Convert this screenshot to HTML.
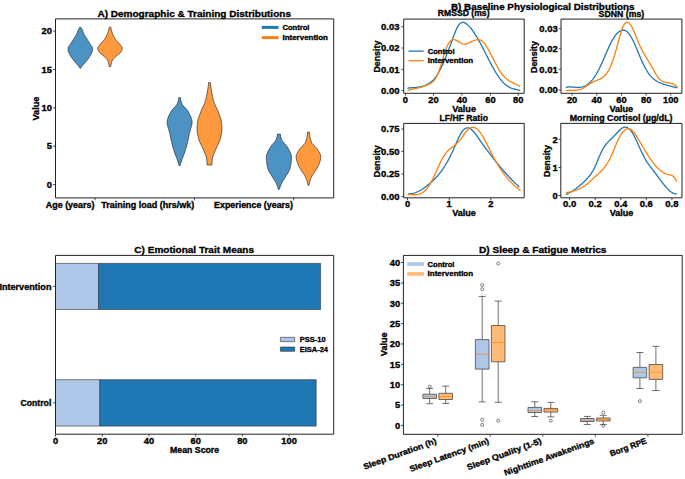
<!DOCTYPE html>
<html><head><meta charset="utf-8"><title>Figure</title>
<style>html,body{margin:0;padding:0;background:#fff;width:685px;height:479px;overflow:hidden;font-family:"Liberation Sans",sans-serif;}svg{display:block;} svg text{stroke:#000;stroke-width:0.32px;}</style>
</head><body>
<svg width="685" height="479" viewBox="0 0 685 479" font-family='&quot;Liberation Sans&quot;, sans-serif' stroke-linejoin="round">
<rect width="685" height="479" fill="#fff"/>
<path d="M80.9,27.4 L81.32,28.09 L81.73,28.78 L82.09,29.47 L82.4,30.16 L82.67,30.85 L82.92,31.54 L83.17,32.23 L83.43,32.92 L83.72,33.61 L84.05,34.3 L84.43,34.99 L84.84,35.68 L85.28,36.37 L85.73,37.06 L86.19,37.75 L86.64,38.44 L87.08,39.13 L87.51,39.82 L87.94,40.51 L88.37,41.2 L88.8,41.89 L89.23,42.58 L89.65,43.27 L90.07,43.96 L90.54,44.65 L91.06,45.34 L91.59,46.03 L92.05,46.72 L92.38,47.41 L92.5,48.09 L92.5,48.78 L92.5,49.47 L92.5,50.16 L92.47,50.85 L92.29,51.54 L92,52.23 L91.68,52.92 L91.37,53.61 L91.03,54.3 L90.66,54.99 L90.26,55.68 L89.83,56.37 L89.39,57.06 L88.93,57.75 L88.46,58.44 L87.96,59.13 L87.43,59.82 L86.88,60.51 L86.3,61.2 L85.72,61.89 L85.14,62.58 L84.55,63.27 L83.94,63.96 L83.29,64.65 L82.67,65.34 L82.1,66.03 L81.61,66.72 L81.18,67.41 L80.8,68.1 L79.8,68.1 L79.42,67.41 L78.99,66.72 L78.5,66.03 L77.93,65.34 L77.31,64.65 L76.66,63.96 L76.05,63.27 L75.46,62.58 L74.88,61.89 L74.3,61.2 L73.72,60.51 L73.17,59.82 L72.64,59.13 L72.14,58.44 L71.67,57.75 L71.21,57.06 L70.77,56.37 L70.34,55.68 L69.94,54.99 L69.57,54.3 L69.23,53.61 L68.92,52.92 L68.6,52.23 L68.31,51.54 L68.13,50.85 L68.1,50.16 L68.1,49.47 L68.1,48.78 L68.1,48.09 L68.22,47.41 L68.55,46.72 L69.01,46.03 L69.54,45.34 L70.06,44.65 L70.53,43.96 L70.95,43.27 L71.37,42.58 L71.8,41.89 L72.23,41.2 L72.66,40.51 L73.09,39.82 L73.52,39.13 L73.96,38.44 L74.41,37.75 L74.87,37.06 L75.32,36.37 L75.76,35.68 L76.17,34.99 L76.55,34.3 L76.88,33.61 L77.17,32.92 L77.43,32.23 L77.68,31.54 L77.93,30.85 L78.2,30.16 L78.51,29.47 L78.87,28.78 L79.28,28.09 L79.7,27.4 Z" fill="#4c92c3" stroke="#222" stroke-width="0.65" stroke-linejoin="round"/>
<path d="M110.8,27.2 L110.92,27.87 L111.06,28.54 L111.21,29.2 L111.38,29.87 L111.56,30.54 L111.76,31.21 L111.96,31.87 L112.18,32.54 L112.41,33.21 L112.67,33.88 L112.94,34.55 L113.23,35.21 L113.54,35.88 L113.87,36.55 L114.21,37.22 L114.58,37.88 L114.98,38.55 L115.42,39.22 L115.88,39.89 L116.37,40.56 L116.9,41.22 L117.55,41.89 L118.28,42.56 L119.01,43.23 L119.64,43.89 L120.15,44.56 L120.66,45.23 L121.15,45.9 L121.6,46.57 L121.96,47.23 L122.2,47.9 L122.3,48.57 L122.23,49.24 L122.02,49.91 L121.71,50.57 L121.33,51.24 L120.92,51.91 L120.45,52.58 L119.79,53.24 L119,53.91 L118.14,54.58 L117.28,55.25 L116.5,55.92 L115.79,56.58 L115.05,57.25 L114.32,57.92 L113.64,58.59 L113.05,59.25 L112.59,59.92 L112.27,60.59 L112,61.26 L111.77,61.93 L111.57,62.59 L111.39,63.26 L111.24,63.93 L111.1,64.6 L110.98,65.26 L110.88,65.93 L110.8,66.6 L109.2,66.6 L109.12,65.93 L109.02,65.26 L108.9,64.6 L108.76,63.93 L108.61,63.26 L108.43,62.59 L108.23,61.93 L108,61.26 L107.73,60.59 L107.41,59.92 L106.95,59.25 L106.36,58.59 L105.68,57.92 L104.95,57.25 L104.21,56.58 L103.5,55.92 L102.72,55.25 L101.86,54.58 L101,53.91 L100.21,53.24 L99.55,52.58 L99.08,51.91 L98.67,51.24 L98.29,50.57 L97.98,49.91 L97.77,49.24 L97.7,48.57 L97.8,47.9 L98.04,47.23 L98.4,46.57 L98.85,45.9 L99.34,45.23 L99.85,44.56 L100.36,43.89 L100.99,43.23 L101.72,42.56 L102.45,41.89 L103.1,41.22 L103.63,40.56 L104.12,39.89 L104.58,39.22 L105.02,38.55 L105.42,37.88 L105.79,37.22 L106.13,36.55 L106.46,35.88 L106.77,35.21 L107.06,34.55 L107.33,33.88 L107.59,33.21 L107.82,32.54 L108.04,31.87 L108.24,31.21 L108.44,30.54 L108.62,29.87 L108.79,29.2 L108.94,28.54 L109.08,27.87 L109.2,27.2 Z" fill="#ff993e" stroke="#222" stroke-width="0.65" stroke-linejoin="round"/>
<path d="M180.4,97.6 L180.49,98.75 L180.71,99.91 L181.01,101.06 L181.38,102.21 L181.79,103.36 L182.35,104.52 L183.19,105.67 L184.21,106.82 L185.31,107.97 L186.41,109.13 L187.4,110.28 L188.2,111.43 L188.79,112.58 L189.37,113.74 L189.94,114.89 L190.48,116.04 L190.97,117.19 L191.4,118.35 L191.74,119.5 L191.98,120.65 L192.09,121.8 L192.07,122.96 L191.94,124.11 L191.72,125.26 L191.43,126.41 L191.09,127.57 L190.73,128.72 L190.36,129.87 L190.01,131.02 L189.7,132.18 L189.44,133.33 L189.19,134.48 L188.96,135.63 L188.73,136.79 L188.5,137.94 L188.27,139.09 L188.03,140.24 L187.78,141.4 L187.51,142.55 L187.22,143.7 L186.93,144.85 L186.61,146.01 L186.29,147.16 L185.95,148.31 L185.6,149.46 L185.24,150.62 L184.87,151.77 L184.49,152.92 L184.1,154.07 L183.66,155.23 L183.19,156.38 L182.72,157.53 L182.27,158.68 L181.85,159.84 L181.48,160.99 L181.13,162.14 L180.8,163.29 L180.49,164.45 L180.2,165.6 L179,165.6 L178.71,164.45 L178.4,163.29 L178.07,162.14 L177.72,160.99 L177.35,159.84 L176.93,158.68 L176.48,157.53 L176.01,156.38 L175.54,155.23 L175.1,154.07 L174.71,152.92 L174.33,151.77 L173.96,150.62 L173.6,149.46 L173.25,148.31 L172.91,147.16 L172.59,146.01 L172.27,144.85 L171.98,143.7 L171.69,142.55 L171.42,141.4 L171.17,140.24 L170.93,139.09 L170.7,137.94 L170.47,136.79 L170.24,135.63 L170.01,134.48 L169.76,133.33 L169.5,132.18 L169.19,131.02 L168.84,129.87 L168.47,128.72 L168.11,127.57 L167.77,126.41 L167.48,125.26 L167.26,124.11 L167.13,122.96 L167.11,121.8 L167.22,120.65 L167.46,119.5 L167.8,118.35 L168.23,117.19 L168.72,116.04 L169.26,114.89 L169.83,113.74 L170.41,112.58 L171,111.43 L171.8,110.28 L172.79,109.13 L173.89,107.97 L174.99,106.82 L176.01,105.67 L176.85,104.52 L177.41,103.36 L177.82,102.21 L178.19,101.06 L178.49,99.91 L178.71,98.75 L178.8,97.6 Z" fill="#4c92c3" stroke="#222" stroke-width="0.65" stroke-linejoin="round"/>
<path d="M210.3,82.5 L210.46,83.9 L210.64,85.3 L210.84,86.69 L211.05,88.09 L211.27,89.49 L211.5,90.89 L211.74,92.29 L211.99,93.69 L212.25,95.08 L212.53,96.48 L212.83,97.88 L213.17,99.28 L213.53,100.68 L213.94,102.08 L214.46,103.47 L215.06,104.87 L215.71,106.27 L216.38,107.67 L217.05,109.07 L217.67,110.47 L218.22,111.86 L218.75,113.26 L219.29,114.66 L219.82,116.06 L220.33,117.46 L220.78,118.86 L221.15,120.25 L221.42,121.65 L221.6,123.05 L221.76,124.45 L221.89,125.85 L221.97,127.25 L222,128.64 L221.95,130.04 L221.81,131.44 L221.61,132.84 L221.36,134.24 L221.06,135.64 L220.74,137.03 L220.41,138.43 L220.04,139.83 L219.55,141.23 L218.94,142.63 L218.28,144.03 L217.58,145.42 L216.89,146.82 L216.24,148.22 L215.68,149.62 L215.1,151.02 L214.51,152.42 L213.92,153.81 L213.36,155.21 L212.88,156.61 L212.49,158.01 L212.24,159.41 L212.11,160.81 L212,162.2 L211.93,163.6 L211.9,165 L207.1,165 L207.07,163.6 L207,162.2 L206.89,160.81 L206.76,159.41 L206.51,158.01 L206.12,156.61 L205.64,155.21 L205.08,153.81 L204.49,152.42 L203.9,151.02 L203.32,149.62 L202.76,148.22 L202.11,146.82 L201.42,145.42 L200.72,144.03 L200.06,142.63 L199.45,141.23 L198.96,139.83 L198.59,138.43 L198.26,137.03 L197.94,135.64 L197.64,134.24 L197.39,132.84 L197.19,131.44 L197.05,130.04 L197,128.64 L197.03,127.25 L197.11,125.85 L197.24,124.45 L197.4,123.05 L197.58,121.65 L197.85,120.25 L198.22,118.86 L198.67,117.46 L199.18,116.06 L199.71,114.66 L200.25,113.26 L200.78,111.86 L201.33,110.47 L201.95,109.07 L202.62,107.67 L203.29,106.27 L203.94,104.87 L204.54,103.47 L205.06,102.08 L205.47,100.68 L205.83,99.28 L206.17,97.88 L206.47,96.48 L206.75,95.08 L207.01,93.69 L207.26,92.29 L207.5,90.89 L207.73,89.49 L207.95,88.09 L208.16,86.69 L208.36,85.3 L208.54,83.9 L208.7,82.5 Z" fill="#ff993e" stroke="#222" stroke-width="0.65" stroke-linejoin="round"/>
<path d="M280.4,134.1 L280.46,135.04 L280.61,135.97 L280.83,136.91 L281.1,137.84 L281.41,138.78 L281.74,139.71 L282.22,140.65 L282.87,141.58 L283.66,142.52 L284.52,143.46 L285.38,144.39 L286.2,145.33 L286.91,146.26 L287.46,147.2 L287.98,148.13 L288.51,149.07 L289.04,150.01 L289.54,150.94 L290.01,151.88 L290.44,152.81 L290.82,153.75 L291.12,154.68 L291.34,155.62 L291.47,156.55 L291.5,157.49 L291.48,158.43 L291.43,159.36 L291.36,160.3 L291.27,161.23 L291.16,162.17 L291.03,163.1 L290.88,164.04 L290.72,164.97 L290.54,165.91 L290.35,166.85 L290.15,167.78 L289.94,168.72 L289.68,169.65 L289.3,170.59 L288.82,171.52 L288.27,172.46 L287.68,173.39 L287.06,174.33 L286.46,175.27 L285.9,176.2 L285.34,177.14 L284.74,178.07 L284.13,179.01 L283.51,179.94 L282.92,180.88 L282.36,181.82 L281.85,182.75 L281.42,183.69 L281.03,184.62 L280.66,185.56 L280.32,186.49 L280.01,187.43 L279.74,188.36 L279.5,189.3 L278.3,189.3 L278.06,188.36 L277.79,187.43 L277.48,186.49 L277.14,185.56 L276.77,184.62 L276.38,183.69 L275.95,182.75 L275.44,181.82 L274.88,180.88 L274.29,179.94 L273.67,179.01 L273.06,178.07 L272.46,177.14 L271.9,176.2 L271.34,175.27 L270.74,174.33 L270.12,173.39 L269.53,172.46 L268.98,171.52 L268.5,170.59 L268.12,169.65 L267.86,168.72 L267.65,167.78 L267.45,166.85 L267.26,165.91 L267.08,164.97 L266.92,164.04 L266.77,163.1 L266.64,162.17 L266.53,161.23 L266.44,160.3 L266.37,159.36 L266.32,158.43 L266.3,157.49 L266.33,156.55 L266.46,155.62 L266.68,154.68 L266.98,153.75 L267.36,152.81 L267.79,151.88 L268.26,150.94 L268.76,150.01 L269.29,149.07 L269.82,148.13 L270.34,147.2 L270.89,146.26 L271.6,145.33 L272.42,144.39 L273.28,143.46 L274.14,142.52 L274.93,141.58 L275.58,140.65 L276.06,139.71 L276.39,138.78 L276.7,137.84 L276.97,136.91 L277.19,135.97 L277.34,135.04 L277.4,134.1 Z" fill="#4c92c3" stroke="#222" stroke-width="0.65" stroke-linejoin="round"/>
<path d="M309.3,132 L309.38,132.9 L309.49,133.8 L309.63,134.71 L309.79,135.61 L309.97,136.51 L310.17,137.41 L310.38,138.31 L310.6,139.21 L310.83,140.12 L311.09,141.02 L311.4,141.92 L311.77,142.82 L312.23,143.72 L313,144.62 L313.98,145.53 L314.96,146.43 L315.76,147.33 L316.52,148.23 L317.24,149.13 L317.9,150.03 L318.49,150.94 L319.01,151.84 L319.54,152.74 L320.04,153.64 L320.47,154.54 L320.78,155.44 L320.9,156.35 L320.86,157.25 L320.76,158.15 L320.59,159.05 L320.38,159.95 L320.14,160.85 L319.87,161.76 L319.6,162.66 L319.32,163.56 L318.97,164.46 L318.57,165.36 L318.11,166.26 L317.62,167.17 L317.11,168.07 L316.58,168.97 L316.05,169.87 L315.52,170.77 L314.92,171.67 L314.28,172.58 L313.62,173.48 L312.99,174.38 L312.41,175.28 L311.91,176.18 L311.48,177.08 L311.08,177.99 L310.71,178.89 L310.38,179.79 L310.09,180.69 L309.84,181.59 L309.61,182.49 L309.41,183.4 L309.24,184.3 L309.1,185.2 L307.9,185.2 L307.76,184.3 L307.59,183.4 L307.39,182.49 L307.16,181.59 L306.91,180.69 L306.62,179.79 L306.29,178.89 L305.92,177.99 L305.52,177.08 L305.09,176.18 L304.59,175.28 L304.01,174.38 L303.38,173.48 L302.72,172.58 L302.08,171.67 L301.48,170.77 L300.95,169.87 L300.42,168.97 L299.89,168.07 L299.38,167.17 L298.89,166.26 L298.43,165.36 L298.03,164.46 L297.68,163.56 L297.4,162.66 L297.13,161.76 L296.86,160.85 L296.62,159.95 L296.41,159.05 L296.24,158.15 L296.14,157.25 L296.1,156.35 L296.22,155.44 L296.53,154.54 L296.96,153.64 L297.46,152.74 L297.99,151.84 L298.51,150.94 L299.1,150.03 L299.76,149.13 L300.48,148.23 L301.24,147.33 L302.04,146.43 L303.02,145.53 L304,144.62 L304.77,143.72 L305.23,142.82 L305.6,141.92 L305.91,141.02 L306.17,140.12 L306.4,139.21 L306.62,138.31 L306.83,137.41 L307.03,136.51 L307.21,135.61 L307.37,134.71 L307.51,133.8 L307.62,132.9 L307.7,132 Z" fill="#ff993e" stroke="#222" stroke-width="0.65" stroke-linejoin="round"/>
<rect x="55.5" y="18.9" width="278.2" height="179" fill="none" stroke="#222" stroke-width="1" />
<line x1="53.1" y1="184.5" x2="55.5" y2="184.5" stroke="#222" stroke-width="0.8" />
<text x="52" y="187.82" font-size="8.2" text-anchor="end" font-weight="bold" fill="#000" textLength="5.18" lengthAdjust="spacingAndGlyphs">0</text>
<line x1="53.1" y1="146.15" x2="55.5" y2="146.15" stroke="#222" stroke-width="0.8" />
<text x="52" y="149.47" font-size="8.2" text-anchor="end" font-weight="bold" fill="#000" textLength="5.18" lengthAdjust="spacingAndGlyphs">5</text>
<line x1="53.1" y1="107.8" x2="55.5" y2="107.8" stroke="#222" stroke-width="0.8" />
<text x="52" y="111.12" font-size="8.2" text-anchor="end" font-weight="bold" fill="#000" textLength="10.37" lengthAdjust="spacingAndGlyphs">10</text>
<line x1="53.1" y1="69.45" x2="55.5" y2="69.45" stroke="#222" stroke-width="0.8" />
<text x="52" y="72.77" font-size="8.2" text-anchor="end" font-weight="bold" fill="#000" textLength="10.37" lengthAdjust="spacingAndGlyphs">15</text>
<line x1="53.1" y1="31.1" x2="55.5" y2="31.1" stroke="#222" stroke-width="0.8" />
<text x="52" y="34.42" font-size="8.2" text-anchor="end" font-weight="bold" fill="#000" textLength="10.37" lengthAdjust="spacingAndGlyphs">20</text>
<line x1="95" y1="197.9" x2="95" y2="200.3" stroke="#222" stroke-width="0.8" />
<line x1="194.5" y1="197.9" x2="194.5" y2="200.3" stroke="#222" stroke-width="0.8" />
<line x1="293.7" y1="197.9" x2="293.7" y2="200.3" stroke="#222" stroke-width="0.8" />
<text x="94.4" y="207.82" font-size="8.2" text-anchor="end" font-weight="bold" fill="#000" textLength="48.6" lengthAdjust="spacingAndGlyphs">Age (years)</text>
<text x="194.2" y="207.82" font-size="8.2" text-anchor="end" font-weight="bold" fill="#000" textLength="92.83" lengthAdjust="spacingAndGlyphs">Training load (hrs/wk)</text>
<text x="292.9" y="207.82" font-size="8.2" text-anchor="end" font-weight="bold" fill="#000" textLength="78.78" lengthAdjust="spacingAndGlyphs">Experience (years)</text>
<text x="35.5" y="111.92" font-size="8.2" text-anchor="middle" font-weight="bold" fill="#000" textLength="23.7" lengthAdjust="spacingAndGlyphs" transform="rotate(-90 35.5 108.6)">Value</text>
<text x="194.2" y="16.79" font-size="9.26" text-anchor="middle" font-weight="bold" fill="#000" textLength="193.49" lengthAdjust="spacingAndGlyphs">A) Demographic &amp; Training Distributions</text>
<line x1="261.8" y1="27.4" x2="278.5" y2="27.4" stroke="#1f77b4" stroke-width="3" />
<line x1="261.8" y1="37.6" x2="278.5" y2="37.6" stroke="#ff7f0e" stroke-width="3" />
<text x="282.5" y="29.86" font-size="7.15" text-anchor="start" font-weight="bold" fill="#000" textLength="26.87" lengthAdjust="spacingAndGlyphs">Control</text>
<text x="282.5" y="39.96" font-size="7.15" text-anchor="start" font-weight="bold" fill="#000" textLength="45.47" lengthAdjust="spacingAndGlyphs">Intervention</text>
<path d="M408,88.1 L408.94,88 L409.88,87.91 L410.81,87.83 L411.75,87.76 L412.69,87.69 L413.63,87.62 L414.56,87.55 L415.5,87.47 L416.44,87.37 L417.38,87.27 L418.32,87.14 L419.25,87 L420.19,86.83 L421.13,86.63 L422.07,86.4 L423.01,86.14 L423.94,85.84 L424.88,85.49 L425.82,85.1 L426.76,84.67 L427.69,84.18 L428.63,83.63 L429.57,83.03 L430.51,82.36 L431.45,81.63 L432.38,80.82 L433.32,79.92 L434.26,78.91 L435.2,77.79 L436.13,76.54 L437.07,75.16 L438.01,73.64 L438.95,72 L439.89,70.25 L440.82,68.39 L441.76,66.43 L442.7,64.37 L443.64,62.23 L444.57,60.02 L445.51,57.73 L446.45,55.38 L447.39,52.99 L448.33,50.54 L449.26,48.06 L450.2,45.55 L451.14,43.02 L452.08,40.48 L453.02,37.93 L453.95,35.4 L454.89,32.93 L455.83,30.6 L456.77,28.49 L457.7,26.66 L458.64,25.18 L459.58,24.04 L460.52,23.23 L461.46,22.72 L462.39,22.47 L463.33,22.47 L464.27,22.69 L465.21,23.1 L466.14,23.67 L467.08,24.37 L468.02,25.19 L468.96,26.11 L469.9,27.13 L470.83,28.23 L471.77,29.41 L472.71,30.68 L473.65,32.02 L474.58,33.43 L475.52,34.9 L476.46,36.43 L477.4,38.02 L478.34,39.65 L479.27,41.33 L480.21,43.05 L481.15,44.81 L482.09,46.59 L483.03,48.4 L483.96,50.23 L484.9,52.07 L485.84,53.92 L486.78,55.77 L487.71,57.62 L488.65,59.46 L489.59,61.28 L490.53,63.08 L491.47,64.85 L492.4,66.58 L493.34,68.27 L494.28,69.92 L495.22,71.5 L496.15,73.04 L497.09,74.5 L498.03,75.91 L498.97,77.25 L499.91,78.53 L500.84,79.73 L501.78,80.87 L502.72,81.93 L503.66,82.91 L504.59,83.82 L505.53,84.65 L506.47,85.4 L507.41,86.07 L508.35,86.66 L509.28,87.18 L510.22,87.64 L511.16,88.05 L512.1,88.41 L513.04,88.72 L513.97,89 L514.91,89.25 L515.85,89.48 L516.79,89.69 L517.72,89.9 L518.66,90.1 L519.6,90.3" fill="none" stroke="#1f77b4" stroke-width="1.3" stroke-linejoin="round" stroke-linecap="round"/>
<path d="M408,90.3 L408.94,90.05 L409.88,89.82 L410.81,89.6 L411.75,89.39 L412.69,89.18 L413.63,88.97 L414.56,88.76 L415.5,88.56 L416.44,88.34 L417.38,88.12 L418.32,87.9 L419.25,87.66 L420.19,87.42 L421.13,87.15 L422.07,86.88 L423.01,86.58 L423.94,86.26 L424.88,85.93 L425.82,85.56 L426.76,85.18 L427.69,84.76 L428.63,84.31 L429.57,83.83 L430.51,83.32 L431.45,82.76 L432.38,82.1 L433.32,81.3 L434.26,80.3 L435.2,79.06 L436.13,77.51 L437.07,75.63 L438.01,73.44 L438.95,70.98 L439.89,68.3 L440.82,65.42 L441.76,62.39 L442.7,59.26 L443.64,56.12 L444.57,53.07 L445.51,50.22 L446.45,47.67 L447.39,45.51 L448.33,43.74 L449.26,42.32 L450.2,41.24 L451.14,40.46 L452.08,39.96 L453.02,39.71 L453.95,39.68 L454.89,39.83 L455.83,40.14 L456.77,40.56 L457.7,41.08 L458.64,41.64 L459.58,42.23 L460.52,42.8 L461.46,43.31 L462.39,43.75 L463.33,44.07 L464.27,44.23 L465.21,44.22 L466.14,44.04 L467.08,43.73 L468.02,43.33 L468.96,42.87 L469.9,42.39 L470.83,41.93 L471.77,41.49 L472.71,41.1 L473.65,40.73 L474.58,40.41 L475.52,40.12 L476.46,39.88 L477.4,39.71 L478.34,39.64 L479.27,39.7 L480.21,39.94 L481.15,40.38 L482.09,41.04 L483.03,41.9 L483.96,42.94 L484.9,44.14 L485.84,45.48 L486.78,46.95 L487.71,48.52 L488.65,50.17 L489.59,51.9 L490.53,53.67 L491.47,55.48 L492.4,57.31 L493.34,59.14 L494.28,60.97 L495.22,62.78 L496.15,64.56 L497.09,66.29 L498.03,67.95 L498.97,69.54 L499.91,71.04 L500.84,72.43 L501.78,73.72 L502.72,74.89 L503.66,75.97 L504.59,76.96 L505.53,77.86 L506.47,78.68 L507.41,79.43 L508.35,80.12 L509.28,80.75 L510.22,81.34 L511.16,81.88 L512.1,82.39 L513.04,82.88 L513.97,83.35 L514.91,83.8 L515.85,84.26 L516.79,84.72 L517.72,85.19 L518.66,85.68 L519.6,86.2" fill="none" stroke="#ff7f0e" stroke-width="1.3" stroke-linejoin="round" stroke-linecap="round"/>
<rect x="403.7" y="19.1" width="120.5" height="74.2" fill="none" stroke="#222" stroke-width="1" />
<line x1="401.3" y1="90.7" x2="403.7" y2="90.7" stroke="#222" stroke-width="0.8" />
<text x="399.5" y="94.02" font-size="8.2" text-anchor="end" font-weight="bold" fill="#000" textLength="18.38" lengthAdjust="spacingAndGlyphs">0.00</text>
<line x1="401.3" y1="69.37" x2="403.7" y2="69.37" stroke="#222" stroke-width="0.8" />
<text x="399.5" y="72.69" font-size="8.2" text-anchor="end" font-weight="bold" fill="#000" textLength="18.38" lengthAdjust="spacingAndGlyphs">0.01</text>
<line x1="401.3" y1="48.03" x2="403.7" y2="48.03" stroke="#222" stroke-width="0.8" />
<text x="399.5" y="51.35" font-size="8.2" text-anchor="end" font-weight="bold" fill="#000" textLength="18.38" lengthAdjust="spacingAndGlyphs">0.02</text>
<line x1="401.3" y1="26.7" x2="403.7" y2="26.7" stroke="#222" stroke-width="0.8" />
<text x="399.5" y="30.02" font-size="8.2" text-anchor="end" font-weight="bold" fill="#000" textLength="18.38" lengthAdjust="spacingAndGlyphs">0.03</text>
<line x1="405.4" y1="93.3" x2="405.4" y2="95.7" stroke="#222" stroke-width="0.8" />
<text x="405.4" y="102.72" font-size="8.2" text-anchor="middle" font-weight="bold" fill="#000" textLength="5.18" lengthAdjust="spacingAndGlyphs">0</text>
<line x1="433.5" y1="93.3" x2="433.5" y2="95.7" stroke="#222" stroke-width="0.8" />
<text x="433.5" y="102.72" font-size="8.2" text-anchor="middle" font-weight="bold" fill="#000" textLength="10.37" lengthAdjust="spacingAndGlyphs">20</text>
<line x1="461.9" y1="93.3" x2="461.9" y2="95.7" stroke="#222" stroke-width="0.8" />
<text x="461.9" y="102.72" font-size="8.2" text-anchor="middle" font-weight="bold" fill="#000" textLength="10.37" lengthAdjust="spacingAndGlyphs">40</text>
<line x1="490.4" y1="93.3" x2="490.4" y2="95.7" stroke="#222" stroke-width="0.8" />
<text x="490.4" y="102.72" font-size="8.2" text-anchor="middle" font-weight="bold" fill="#000" textLength="10.37" lengthAdjust="spacingAndGlyphs">60</text>
<line x1="518.2" y1="93.3" x2="518.2" y2="95.7" stroke="#222" stroke-width="0.8" />
<text x="518.2" y="102.72" font-size="8.2" text-anchor="middle" font-weight="bold" fill="#000" textLength="10.37" lengthAdjust="spacingAndGlyphs">80</text>
<text x="464.1" y="112.22" font-size="8.2" text-anchor="middle" font-weight="bold" fill="#000" textLength="23.7" lengthAdjust="spacingAndGlyphs">Value</text>
<text x="376.5" y="59.92" font-size="8.2" text-anchor="middle" font-weight="bold" fill="#000" textLength="31.95" lengthAdjust="spacingAndGlyphs" transform="rotate(-90 376.5 56.6)">Density</text>
<text x="463.7" y="16.42" font-size="8.2" text-anchor="middle" font-weight="bold" fill="#000" textLength="51.67" lengthAdjust="spacingAndGlyphs">RMSSD (ms)</text>
<line x1="408.5" y1="51.1" x2="423.7" y2="51.1" stroke="#1f77b4" stroke-width="1.3" />
<line x1="408.5" y1="60.7" x2="423.7" y2="60.7" stroke="#ff7f0e" stroke-width="1.3" />
<text x="427.7" y="53.56" font-size="7.15" text-anchor="start" font-weight="bold" fill="#000" textLength="26.87" lengthAdjust="spacingAndGlyphs">Control</text>
<text x="427.7" y="63.36" font-size="7.15" text-anchor="start" font-weight="bold" fill="#000" textLength="45.47" lengthAdjust="spacingAndGlyphs">Intervention</text>
<path d="M566.3,87.3 L567.23,87.13 L568.16,87.02 L569.09,86.96 L570.02,86.95 L570.95,86.96 L571.88,87.01 L572.81,87.07 L573.74,87.14 L574.67,87.22 L575.6,87.29 L576.53,87.34 L577.46,87.38 L578.39,87.39 L579.32,87.36 L580.25,87.29 L581.18,87.17 L582.11,86.98 L583.04,86.73 L583.97,86.41 L584.91,86.01 L585.84,85.53 L586.77,84.98 L587.7,84.34 L588.63,83.61 L589.56,82.8 L590.49,81.9 L591.42,80.91 L592.35,79.82 L593.28,78.64 L594.21,77.36 L595.14,75.98 L596.07,74.5 L597,72.91 L597.93,71.22 L598.86,69.44 L599.79,67.58 L600.72,65.63 L601.65,63.63 L602.58,61.56 L603.51,59.44 L604.44,57.29 L605.37,55.12 L606.3,52.94 L607.23,50.79 L608.16,48.68 L609.09,46.62 L610.02,44.65 L610.95,42.78 L611.88,41.02 L612.81,39.37 L613.74,37.84 L614.67,36.44 L615.6,35.16 L616.53,34.02 L617.46,33.02 L618.39,32.16 L619.32,31.45 L620.25,30.88 L621.18,30.48 L622.12,30.23 L623.05,30.15 L623.98,30.24 L624.91,30.5 L625.84,30.94 L626.77,31.56 L627.7,32.37 L628.63,33.38 L629.56,34.58 L630.49,35.97 L631.42,37.52 L632.35,39.23 L633.28,41.08 L634.21,43.05 L635.14,45.13 L636.07,47.29 L637,49.51 L637.93,51.76 L638.86,54.02 L639.79,56.26 L640.72,58.45 L641.65,60.57 L642.58,62.62 L643.51,64.59 L644.44,66.46 L645.37,68.24 L646.3,69.9 L647.23,71.43 L648.16,72.84 L649.09,74.13 L650.02,75.31 L650.95,76.38 L651.88,77.35 L652.81,78.23 L653.74,79.02 L654.67,79.74 L655.6,80.39 L656.53,80.97 L657.46,81.51 L658.39,81.99 L659.33,82.43 L660.26,82.84 L661.19,83.23 L662.12,83.59 L663.05,83.94 L663.98,84.27 L664.91,84.58 L665.84,84.88 L666.77,85.16 L667.7,85.43 L668.63,85.69 L669.56,85.94 L670.49,86.18 L671.42,86.41 L672.35,86.64 L673.28,86.86 L674.21,87.07 L675.14,87.29 L676.07,87.5 L677,87.71" fill="none" stroke="#1f77b4" stroke-width="1.3" stroke-linejoin="round" stroke-linecap="round"/>
<path d="M566.3,90.7 L567.23,90.59 L568.16,90.52 L569.09,90.47 L570.02,90.44 L570.95,90.41 L571.88,90.4 L572.81,90.38 L573.74,90.35 L574.67,90.31 L575.6,90.25 L576.53,90.16 L577.46,90.03 L578.39,89.87 L579.32,89.66 L580.25,89.4 L581.18,89.08 L582.11,88.69 L583.04,88.23 L583.97,87.7 L584.91,87.11 L585.84,86.49 L586.77,85.84 L587.7,85.18 L588.63,84.54 L589.56,83.92 L590.49,83.35 L591.42,82.81 L592.35,82.32 L593.28,81.86 L594.21,81.43 L595.14,81.02 L596.07,80.63 L597,80.26 L597.93,79.89 L598.86,79.51 L599.79,79.11 L600.72,78.65 L601.65,78.13 L602.58,77.53 L603.51,76.82 L604.44,76 L605.37,75.04 L606.3,73.93 L607.23,72.65 L608.16,71.18 L609.09,69.51 L610.02,67.61 L610.95,65.47 L611.88,63.1 L612.81,60.5 L613.74,57.71 L614.67,54.75 L615.6,51.62 L616.53,48.35 L617.46,44.97 L618.39,41.51 L619.32,38.07 L620.25,34.75 L621.18,31.65 L622.12,28.9 L623.05,26.57 L623.98,24.76 L624.91,23.46 L625.84,22.64 L626.77,22.26 L627.7,22.31 L628.63,22.75 L629.56,23.55 L630.49,24.7 L631.42,26.15 L632.35,27.88 L633.28,29.86 L634.21,32.02 L635.14,34.3 L636.07,36.65 L637,39 L637.93,41.28 L638.86,43.45 L639.79,45.51 L640.72,47.47 L641.65,49.34 L642.58,51.12 L643.51,52.84 L644.44,54.49 L645.37,56.1 L646.3,57.67 L647.23,59.21 L648.16,60.74 L649.09,62.27 L650.02,63.82 L650.95,65.39 L651.88,67.01 L652.81,68.67 L653.74,70.34 L654.67,72 L655.6,73.6 L656.53,75.12 L657.46,76.51 L658.39,77.76 L659.33,78.83 L660.26,79.72 L661.19,80.45 L662.12,81.04 L663.05,81.51 L663.98,81.88 L664.91,82.17 L665.84,82.39 L666.77,82.57 L667.7,82.72 L668.63,82.86 L669.56,83.01 L670.49,83.19 L671.42,83.41 L672.35,83.7 L673.28,84.08 L674.21,84.56 L675.14,85.15 L676.07,85.89 L677,86.79" fill="none" stroke="#ff7f0e" stroke-width="1.3" stroke-linejoin="round" stroke-linecap="round"/>
<rect x="561" y="19.1" width="120.9" height="74.2" fill="none" stroke="#222" stroke-width="1" />
<line x1="558.6" y1="90" x2="561" y2="90" stroke="#222" stroke-width="0.8" />
<text x="557.7" y="93.32" font-size="8.2" text-anchor="end" font-weight="bold" fill="#000" textLength="18.38" lengthAdjust="spacingAndGlyphs">0.00</text>
<line x1="558.6" y1="69.3" x2="561" y2="69.3" stroke="#222" stroke-width="0.8" />
<text x="557.7" y="72.62" font-size="8.2" text-anchor="end" font-weight="bold" fill="#000" textLength="18.38" lengthAdjust="spacingAndGlyphs">0.01</text>
<line x1="558.6" y1="48.9" x2="561" y2="48.9" stroke="#222" stroke-width="0.8" />
<text x="557.7" y="52.22" font-size="8.2" text-anchor="end" font-weight="bold" fill="#000" textLength="18.38" lengthAdjust="spacingAndGlyphs">0.02</text>
<line x1="558.6" y1="28.7" x2="561" y2="28.7" stroke="#222" stroke-width="0.8" />
<text x="557.7" y="32.02" font-size="8.2" text-anchor="end" font-weight="bold" fill="#000" textLength="18.38" lengthAdjust="spacingAndGlyphs">0.03</text>
<line x1="572.1" y1="93.3" x2="572.1" y2="95.7" stroke="#222" stroke-width="0.8" />
<text x="572.1" y="103.22" font-size="8.2" text-anchor="middle" font-weight="bold" fill="#000" textLength="10.37" lengthAdjust="spacingAndGlyphs">20</text>
<line x1="596.8" y1="93.3" x2="596.8" y2="95.7" stroke="#222" stroke-width="0.8" />
<text x="596.8" y="103.22" font-size="8.2" text-anchor="middle" font-weight="bold" fill="#000" textLength="10.37" lengthAdjust="spacingAndGlyphs">40</text>
<line x1="621.5" y1="93.3" x2="621.5" y2="95.7" stroke="#222" stroke-width="0.8" />
<text x="621.5" y="103.22" font-size="8.2" text-anchor="middle" font-weight="bold" fill="#000" textLength="10.37" lengthAdjust="spacingAndGlyphs">60</text>
<line x1="646.2" y1="93.3" x2="646.2" y2="95.7" stroke="#222" stroke-width="0.8" />
<text x="646.2" y="103.22" font-size="8.2" text-anchor="middle" font-weight="bold" fill="#000" textLength="10.37" lengthAdjust="spacingAndGlyphs">80</text>
<line x1="670.8" y1="93.3" x2="670.8" y2="95.7" stroke="#222" stroke-width="0.8" />
<text x="670.8" y="103.22" font-size="8.2" text-anchor="middle" font-weight="bold" fill="#000" textLength="15.55" lengthAdjust="spacingAndGlyphs">100</text>
<text x="621.3" y="112.12" font-size="8.2" text-anchor="middle" font-weight="bold" fill="#000" textLength="23.7" lengthAdjust="spacingAndGlyphs">Value</text>
<text x="533.9" y="60.32" font-size="8.2" text-anchor="middle" font-weight="bold" fill="#000" textLength="31.95" lengthAdjust="spacingAndGlyphs" transform="rotate(-90 533.9 57)">Density</text>
<text x="621.4" y="16.52" font-size="8.2" text-anchor="middle" font-weight="bold" fill="#000" textLength="45.62" lengthAdjust="spacingAndGlyphs">SDNN (ms)</text>
<path d="M408.4,193.89 L409.33,193.88 L410.26,193.82 L411.19,193.71 L412.12,193.55 L413.05,193.35 L413.98,193.11 L414.91,192.82 L415.84,192.49 L416.76,192.12 L417.69,191.71 L418.62,191.27 L419.55,190.79 L420.48,190.27 L421.41,189.73 L422.34,189.15 L423.27,188.55 L424.2,187.91 L425.13,187.25 L426.06,186.56 L426.99,185.85 L427.92,185.12 L428.85,184.37 L429.78,183.59 L430.71,182.79 L431.64,181.96 L432.56,181.1 L433.49,180.21 L434.42,179.28 L435.35,178.32 L436.28,177.32 L437.21,176.28 L438.14,175.2 L439.07,174.07 L440,172.9 L440.93,171.68 L441.86,170.41 L442.79,169.08 L443.72,167.7 L444.65,166.27 L445.58,164.78 L446.51,163.22 L447.44,161.61 L448.36,159.93 L449.29,158.18 L450.22,156.37 L451.15,154.5 L452.08,152.56 L453.01,150.56 L453.94,148.49 L454.87,146.35 L455.8,144.19 L456.73,142.03 L457.66,139.91 L458.59,137.87 L459.52,135.94 L460.45,134.18 L461.38,132.61 L462.31,131.26 L463.24,130.15 L464.16,129.25 L465.09,128.58 L466.02,128.12 L466.95,127.87 L467.88,127.84 L468.81,128.01 L469.74,128.38 L470.67,128.92 L471.6,129.62 L472.53,130.46 L473.46,131.43 L474.39,132.5 L475.32,133.66 L476.25,134.9 L477.18,136.2 L478.11,137.54 L479.04,138.9 L479.96,140.27 L480.89,141.63 L481.82,142.97 L482.75,144.29 L483.68,145.6 L484.61,146.88 L485.54,148.16 L486.47,149.42 L487.4,150.67 L488.33,151.9 L489.26,153.13 L490.19,154.34 L491.12,155.55 L492.05,156.75 L492.98,157.94 L493.91,159.12 L494.84,160.29 L495.76,161.45 L496.69,162.6 L497.62,163.74 L498.55,164.87 L499.48,165.99 L500.41,167.1 L501.34,168.2 L502.27,169.29 L503.2,170.36 L504.13,171.43 L505.06,172.48 L505.99,173.52 L506.92,174.55 L507.85,175.56 L508.78,176.57 L509.71,177.56 L510.64,178.53 L511.56,179.5 L512.49,180.45 L513.42,181.38 L514.35,182.3 L515.28,183.21 L516.21,184.1 L517.14,184.98 L518.07,185.85 L519,186.69" fill="none" stroke="#1f77b4" stroke-width="1.3" stroke-linejoin="round" stroke-linecap="round"/>
<path d="M408.4,194.6 L409.34,194.61 L410.28,194.63 L411.22,194.67 L412.15,194.71 L413.09,194.73 L414.03,194.74 L414.97,194.73 L415.91,194.68 L416.85,194.59 L417.79,194.44 L418.73,194.23 L419.66,193.96 L420.6,193.6 L421.54,193.16 L422.48,192.62 L423.42,191.97 L424.36,191.21 L425.3,190.33 L426.23,189.32 L427.17,188.18 L428.11,186.92 L429.05,185.53 L429.99,184.03 L430.93,182.41 L431.87,180.68 L432.81,178.84 L433.74,176.9 L434.68,174.89 L435.62,172.83 L436.56,170.75 L437.5,168.66 L438.44,166.6 L439.38,164.58 L440.31,162.64 L441.25,160.78 L442.19,159.01 L443.13,157.34 L444.07,155.79 L445.01,154.35 L445.95,153.04 L446.88,151.87 L447.82,150.84 L448.76,149.94 L449.7,149.12 L450.64,148.38 L451.58,147.69 L452.52,147.01 L453.46,146.33 L454.39,145.61 L455.33,144.85 L456.27,144.03 L457.21,143.15 L458.15,142.2 L459.09,141.18 L460.03,140.07 L460.96,138.87 L461.9,137.59 L462.84,136.23 L463.78,134.85 L464.72,133.49 L465.66,132.19 L466.6,131 L467.54,129.95 L468.47,129.08 L469.41,128.38 L470.35,127.86 L471.29,127.52 L472.23,127.34 L473.17,127.34 L474.11,127.5 L475.04,127.82 L475.98,128.31 L476.92,128.96 L477.86,129.77 L478.8,130.73 L479.74,131.84 L480.68,133.1 L481.62,134.5 L482.55,136.01 L483.49,137.62 L484.43,139.32 L485.37,141.09 L486.31,142.91 L487.25,144.79 L488.19,146.69 L489.12,148.6 L490.06,150.51 L491,152.41 L491.94,154.28 L492.88,156.1 L493.82,157.87 L494.76,159.59 L495.69,161.26 L496.63,162.87 L497.57,164.44 L498.51,165.96 L499.45,167.44 L500.39,168.87 L501.33,170.25 L502.27,171.59 L503.2,172.89 L504.14,174.15 L505.08,175.37 L506.02,176.55 L506.96,177.69 L507.9,178.8 L508.84,179.87 L509.77,180.9 L510.71,181.9 L511.65,182.87 L512.59,183.81 L513.53,184.72 L514.47,185.6 L515.41,186.46 L516.35,187.28 L517.28,188.09 L518.22,188.86 L519.16,189.62 L520.1,190.35" fill="none" stroke="#ff7f0e" stroke-width="1.3" stroke-linejoin="round" stroke-linecap="round"/>
<rect x="403.7" y="123.4" width="120.5" height="74.4" fill="none" stroke="#222" stroke-width="1" />
<line x1="401.3" y1="196.3" x2="403.7" y2="196.3" stroke="#222" stroke-width="0.8" />
<text x="399.5" y="199.62" font-size="8.2" text-anchor="end" font-weight="bold" fill="#000" textLength="18.38" lengthAdjust="spacingAndGlyphs">0.00</text>
<line x1="401.3" y1="174" x2="403.7" y2="174" stroke="#222" stroke-width="0.8" />
<text x="399.5" y="177.32" font-size="8.2" text-anchor="end" font-weight="bold" fill="#000" textLength="18.38" lengthAdjust="spacingAndGlyphs">0.25</text>
<line x1="401.3" y1="151.4" x2="403.7" y2="151.4" stroke="#222" stroke-width="0.8" />
<text x="399.5" y="154.72" font-size="8.2" text-anchor="end" font-weight="bold" fill="#000" textLength="18.38" lengthAdjust="spacingAndGlyphs">0.50</text>
<line x1="401.3" y1="129" x2="403.7" y2="129" stroke="#222" stroke-width="0.8" />
<text x="399.5" y="132.32" font-size="8.2" text-anchor="end" font-weight="bold" fill="#000" textLength="18.38" lengthAdjust="spacingAndGlyphs">0.75</text>
<line x1="407.5" y1="197.8" x2="407.5" y2="200.2" stroke="#222" stroke-width="0.8" />
<text x="407.5" y="207.32" font-size="8.2" text-anchor="middle" font-weight="bold" fill="#000" textLength="5.18" lengthAdjust="spacingAndGlyphs">0</text>
<line x1="449.2" y1="197.8" x2="449.2" y2="200.2" stroke="#222" stroke-width="0.8" />
<text x="449.2" y="207.32" font-size="8.2" text-anchor="middle" font-weight="bold" fill="#000" textLength="5.18" lengthAdjust="spacingAndGlyphs">1</text>
<line x1="490.8" y1="197.8" x2="490.8" y2="200.2" stroke="#222" stroke-width="0.8" />
<text x="490.8" y="207.32" font-size="8.2" text-anchor="middle" font-weight="bold" fill="#000" textLength="5.18" lengthAdjust="spacingAndGlyphs">2</text>
<text x="464" y="216.32" font-size="8.2" text-anchor="middle" font-weight="bold" fill="#000" textLength="23.7" lengthAdjust="spacingAndGlyphs">Value</text>
<text x="376.5" y="164.52" font-size="8.2" text-anchor="middle" font-weight="bold" fill="#000" textLength="31.95" lengthAdjust="spacingAndGlyphs" transform="rotate(-90 376.5 161.2)">Density</text>
<text x="463.7" y="120.92" font-size="8.2" text-anchor="middle" font-weight="bold" fill="#000" textLength="48.47" lengthAdjust="spacingAndGlyphs">LF/HF Ratio</text>
<path d="M566.3,194.4 L567.23,193.97 L568.15,193.52 L569.08,193.04 L570,192.53 L570.93,192 L571.85,191.44 L572.78,190.86 L573.7,190.25 L574.63,189.62 L575.55,188.97 L576.48,188.28 L577.4,187.58 L578.33,186.85 L579.25,186.09 L580.18,185.32 L581.1,184.51 L582.03,183.69 L582.95,182.84 L583.88,181.97 L584.8,181.07 L585.73,180.15 L586.65,179.19 L587.58,178.19 L588.51,177.13 L589.43,175.99 L590.36,174.76 L591.28,173.42 L592.21,171.97 L593.13,170.38 L594.06,168.64 L594.98,166.73 L595.91,164.67 L596.83,162.5 L597.76,160.27 L598.68,158.03 L599.61,155.82 L600.53,153.69 L601.46,151.69 L602.38,149.87 L603.31,148.24 L604.23,146.78 L605.16,145.46 L606.08,144.26 L607.01,143.16 L607.93,142.14 L608.86,141.17 L609.78,140.23 L610.71,139.31 L611.64,138.4 L612.56,137.49 L613.49,136.58 L614.41,135.66 L615.34,134.71 L616.26,133.74 L617.19,132.75 L618.11,131.74 L619.04,130.77 L619.96,129.86 L620.89,129.03 L621.81,128.33 L622.74,127.79 L623.66,127.41 L624.59,127.21 L625.51,127.19 L626.44,127.35 L627.36,127.69 L628.29,128.22 L629.21,128.93 L630.14,129.83 L631.06,130.92 L631.99,132.19 L632.92,133.64 L633.84,135.28 L634.77,137.08 L635.69,139 L636.62,141.02 L637.54,143.09 L638.47,145.2 L639.39,147.29 L640.32,149.35 L641.24,151.33 L642.17,153.25 L643.09,155.08 L644.02,156.84 L644.94,158.52 L645.87,160.12 L646.79,161.64 L647.72,163.07 L648.64,164.42 L649.57,165.7 L650.49,166.93 L651.42,168.12 L652.34,169.29 L653.27,170.45 L654.19,171.62 L655.12,172.81 L656.05,174.03 L656.97,175.27 L657.9,176.53 L658.82,177.79 L659.75,179.05 L660.67,180.31 L661.6,181.55 L662.52,182.77 L663.45,183.97 L664.37,185.13 L665.3,186.25 L666.22,187.32 L667.15,188.33 L668.07,189.28 L669,190.17 L669.92,190.97 L670.85,191.7 L671.77,192.33 L672.7,192.87 L673.62,193.3 L674.55,193.63 L675.47,193.83 L676.4,193.91" fill="none" stroke="#1f77b4" stroke-width="1.3" stroke-linejoin="round" stroke-linecap="round"/>
<path d="M566.3,192.7 L567.23,192.47 L568.15,192.25 L569.08,192.02 L570,191.8 L570.93,191.57 L571.85,191.33 L572.78,191.08 L573.7,190.82 L574.63,190.55 L575.55,190.25 L576.48,189.94 L577.4,189.6 L578.33,189.23 L579.25,188.84 L580.18,188.41 L581.1,187.95 L582.03,187.45 L582.95,186.91 L583.88,186.33 L584.8,185.7 L585.73,185.03 L586.65,184.31 L587.58,183.55 L588.51,182.76 L589.43,181.94 L590.36,181.1 L591.28,180.25 L592.21,179.4 L593.13,178.54 L594.06,177.68 L594.98,176.84 L595.91,176.02 L596.83,175.19 L597.76,174.36 L598.68,173.52 L599.61,172.65 L600.53,171.75 L601.46,170.8 L602.38,169.81 L603.31,168.75 L604.23,167.62 L605.16,166.41 L606.08,165.12 L607.01,163.73 L607.93,162.24 L608.86,160.63 L609.78,158.92 L610.71,157.08 L611.64,155.11 L612.56,153.02 L613.49,150.84 L614.41,148.61 L615.34,146.36 L616.26,144.15 L617.19,141.99 L618.11,139.95 L619.04,138.05 L619.96,136.32 L620.89,134.76 L621.81,133.38 L622.74,132.16 L623.66,131.12 L624.59,130.25 L625.51,129.56 L626.44,129.04 L627.36,128.7 L628.29,128.56 L629.21,128.62 L630.14,128.91 L631.06,129.43 L631.99,130.17 L632.92,131.12 L633.84,132.24 L634.77,133.5 L635.69,134.88 L636.62,136.34 L637.54,137.86 L638.47,139.41 L639.39,140.97 L640.32,142.54 L641.24,144.12 L642.17,145.69 L643.09,147.27 L644.02,148.83 L644.94,150.38 L645.87,151.91 L646.79,153.42 L647.72,154.9 L648.64,156.35 L649.57,157.76 L650.49,159.13 L651.42,160.45 L652.34,161.72 L653.27,162.94 L654.19,164.1 L655.12,165.21 L656.05,166.26 L656.97,167.25 L657.9,168.18 L658.82,169.06 L659.75,169.88 L660.67,170.64 L661.6,171.35 L662.52,171.99 L663.45,172.58 L664.37,173.1 L665.3,173.56 L666.22,173.97 L667.15,174.31 L668.07,174.59 L669,174.81 L669.92,174.98 L670.85,175.16 L671.77,175.45 L672.7,175.91 L673.62,176.65 L674.55,177.75 L675.47,179.29 L676.4,181.36" fill="none" stroke="#ff7f0e" stroke-width="1.3" stroke-linejoin="round" stroke-linecap="round"/>
<rect x="560.8" y="123.4" width="121.2" height="74.4" fill="none" stroke="#222" stroke-width="1" />
<line x1="558.4" y1="195.5" x2="560.8" y2="195.5" stroke="#222" stroke-width="0.8" />
<text x="557.8" y="198.82" font-size="8.2" text-anchor="end" font-weight="bold" fill="#000" textLength="5.18" lengthAdjust="spacingAndGlyphs">0</text>
<line x1="558.4" y1="167.5" x2="560.8" y2="167.5" stroke="#222" stroke-width="0.8" />
<text x="557.8" y="170.82" font-size="8.2" text-anchor="end" font-weight="bold" fill="#000" textLength="5.18" lengthAdjust="spacingAndGlyphs">1</text>
<line x1="558.4" y1="139.4" x2="560.8" y2="139.4" stroke="#222" stroke-width="0.8" />
<text x="557.8" y="142.72" font-size="8.2" text-anchor="end" font-weight="bold" fill="#000" textLength="5.18" lengthAdjust="spacingAndGlyphs">2</text>
<line x1="569.6" y1="197.8" x2="569.6" y2="200.2" stroke="#222" stroke-width="0.8" />
<text x="569.6" y="207.32" font-size="8.2" text-anchor="middle" font-weight="bold" fill="#000" textLength="13.2" lengthAdjust="spacingAndGlyphs">0.0</text>
<line x1="595.2" y1="197.8" x2="595.2" y2="200.2" stroke="#222" stroke-width="0.8" />
<text x="595.2" y="207.32" font-size="8.2" text-anchor="middle" font-weight="bold" fill="#000" textLength="13.2" lengthAdjust="spacingAndGlyphs">0.2</text>
<line x1="620.8" y1="197.8" x2="620.8" y2="200.2" stroke="#222" stroke-width="0.8" />
<text x="620.8" y="207.32" font-size="8.2" text-anchor="middle" font-weight="bold" fill="#000" textLength="13.2" lengthAdjust="spacingAndGlyphs">0.4</text>
<line x1="646.3" y1="197.8" x2="646.3" y2="200.2" stroke="#222" stroke-width="0.8" />
<text x="646.3" y="207.32" font-size="8.2" text-anchor="middle" font-weight="bold" fill="#000" textLength="13.2" lengthAdjust="spacingAndGlyphs">0.6</text>
<line x1="671.9" y1="197.8" x2="671.9" y2="200.2" stroke="#222" stroke-width="0.8" />
<text x="671.9" y="207.32" font-size="8.2" text-anchor="middle" font-weight="bold" fill="#000" textLength="13.2" lengthAdjust="spacingAndGlyphs">0.8</text>
<text x="621.5" y="216.32" font-size="8.2" text-anchor="middle" font-weight="bold" fill="#000" textLength="23.7" lengthAdjust="spacingAndGlyphs">Value</text>
<text x="547.1" y="164.32" font-size="8.2" text-anchor="middle" font-weight="bold" fill="#000" textLength="31.95" lengthAdjust="spacingAndGlyphs" transform="rotate(-90 547.1 161)">Density</text>
<text x="621.1" y="120.92" font-size="8.2" text-anchor="middle" font-weight="bold" fill="#000" textLength="102.79" lengthAdjust="spacingAndGlyphs">Morning Cortisol (µg/dL)</text>
<text x="542.7" y="9.99" font-size="9.26" text-anchor="middle" font-weight="bold" fill="#000" textLength="183.51" lengthAdjust="spacingAndGlyphs">B) Baseline Physiological Distributions</text>
<rect x="55.5" y="263.4" width="43.1" height="46.1" fill="#aec7e8" stroke="#333" stroke-width="0.6" />
<rect x="98.6" y="263.4" width="222" height="46.1" fill="#1f77b4" stroke="#333" stroke-width="0.6" />
<rect x="55.5" y="379.7" width="44.4" height="46.4" fill="#aec7e8" stroke="#333" stroke-width="0.6" />
<rect x="99.9" y="379.7" width="216.3" height="46.4" fill="#1f77b4" stroke="#333" stroke-width="0.6" />
<rect x="55.5" y="255.4" width="278.2" height="178.8" fill="none" stroke="#222" stroke-width="1" />
<line x1="55.5" y1="434.2" x2="55.5" y2="436.6" stroke="#222" stroke-width="0.8" />
<text x="55.5" y="444.12" font-size="8.2" text-anchor="middle" font-weight="bold" fill="#000" textLength="5.18" lengthAdjust="spacingAndGlyphs">0</text>
<line x1="102.22" y1="434.2" x2="102.22" y2="436.6" stroke="#222" stroke-width="0.8" />
<text x="102.22" y="444.12" font-size="8.2" text-anchor="middle" font-weight="bold" fill="#000" textLength="10.37" lengthAdjust="spacingAndGlyphs">20</text>
<line x1="148.94" y1="434.2" x2="148.94" y2="436.6" stroke="#222" stroke-width="0.8" />
<text x="148.94" y="444.12" font-size="8.2" text-anchor="middle" font-weight="bold" fill="#000" textLength="10.37" lengthAdjust="spacingAndGlyphs">40</text>
<line x1="195.66" y1="434.2" x2="195.66" y2="436.6" stroke="#222" stroke-width="0.8" />
<text x="195.66" y="444.12" font-size="8.2" text-anchor="middle" font-weight="bold" fill="#000" textLength="10.37" lengthAdjust="spacingAndGlyphs">60</text>
<line x1="242.38" y1="434.2" x2="242.38" y2="436.6" stroke="#222" stroke-width="0.8" />
<text x="242.38" y="444.12" font-size="8.2" text-anchor="middle" font-weight="bold" fill="#000" textLength="10.37" lengthAdjust="spacingAndGlyphs">80</text>
<line x1="289.1" y1="434.2" x2="289.1" y2="436.6" stroke="#222" stroke-width="0.8" />
<text x="289.1" y="444.12" font-size="8.2" text-anchor="middle" font-weight="bold" fill="#000" textLength="15.55" lengthAdjust="spacingAndGlyphs">100</text>
<line x1="53.1" y1="286.5" x2="55.5" y2="286.5" stroke="#222" stroke-width="0.8" />
<line x1="53.1" y1="402.9" x2="55.5" y2="402.9" stroke="#222" stroke-width="0.8" />
<text x="51.5" y="290.32" font-size="8.2" text-anchor="end" font-weight="bold" fill="#000" textLength="52.11" lengthAdjust="spacingAndGlyphs">Intervention</text>
<text x="51.3" y="406.22" font-size="8.2" text-anchor="end" font-weight="bold" fill="#000" textLength="30.8" lengthAdjust="spacingAndGlyphs">Control</text>
<text x="194.6" y="453.22" font-size="8.2" text-anchor="middle" font-weight="bold" fill="#000" textLength="49.02" lengthAdjust="spacingAndGlyphs">Mean Score</text>
<text x="194.2" y="252.69" font-size="9.26" text-anchor="middle" font-weight="bold" fill="#000" textLength="119.66" lengthAdjust="spacingAndGlyphs">C) Emotional Trait Means</text>
<rect x="280.4" y="337.3" width="14.3" height="4.3" fill="#aec7e8" stroke="#333" stroke-width="0.6" />
<rect x="280.4" y="347" width="14.3" height="4.3" fill="#1f77b4" stroke="#333" stroke-width="0.6" />
<text x="299.7" y="342.06" font-size="7.15" text-anchor="start" font-weight="bold" fill="#000" textLength="25.87" lengthAdjust="spacingAndGlyphs">PSS-10</text>
<text x="299.7" y="351.86" font-size="7.15" text-anchor="start" font-weight="bold" fill="#000" textLength="28.31" lengthAdjust="spacingAndGlyphs">EISA-24</text>
<line x1="429.7" y1="388.4" x2="429.7" y2="394.2" stroke="#333" stroke-width="0.7" />
<line x1="429.7" y1="398.5" x2="429.7" y2="403.7" stroke="#333" stroke-width="0.7" />
<line x1="426.2" y1="388.4" x2="433.2" y2="388.4" stroke="#333" stroke-width="0.7" />
<line x1="426.2" y1="403.7" x2="433.2" y2="403.7" stroke="#333" stroke-width="0.7" />
<rect x="422.9" y="394.2" width="13.6" height="4.3" fill="#aec7e8" stroke="#333" stroke-width="0.7" />
<line x1="422.9" y1="396.4" x2="436.5" y2="396.4" stroke="#ff7f0e" stroke-width="0.7" />
<circle cx="429.7" cy="386.7" r="1.5" fill="none" stroke="#333" stroke-width="0.6"/>
<line x1="445.7" y1="386.1" x2="445.7" y2="393.3" stroke="#333" stroke-width="0.7" />
<line x1="445.7" y1="399.5" x2="445.7" y2="403.4" stroke="#333" stroke-width="0.7" />
<line x1="442.2" y1="386.1" x2="449.2" y2="386.1" stroke="#333" stroke-width="0.7" />
<line x1="442.2" y1="403.4" x2="449.2" y2="403.4" stroke="#333" stroke-width="0.7" />
<rect x="438.9" y="393.3" width="13.6" height="6.2" fill="#ffbb78" stroke="#333" stroke-width="0.7" />
<line x1="438.9" y1="396.6" x2="452.5" y2="396.6" stroke="#ff7f0e" stroke-width="0.7" />
<line x1="482.2" y1="296.4" x2="482.2" y2="339.6" stroke="#333" stroke-width="0.7" />
<line x1="482.2" y1="369.1" x2="482.2" y2="401.9" stroke="#333" stroke-width="0.7" />
<line x1="478.7" y1="296.4" x2="485.7" y2="296.4" stroke="#333" stroke-width="0.7" />
<line x1="478.7" y1="401.9" x2="485.7" y2="401.9" stroke="#333" stroke-width="0.7" />
<rect x="475.4" y="339.6" width="13.6" height="29.5" fill="#aec7e8" stroke="#333" stroke-width="0.7" />
<line x1="475.4" y1="354.2" x2="489" y2="354.2" stroke="#ff7f0e" stroke-width="0.7" />
<circle cx="482.2" cy="285.1" r="1.5" fill="none" stroke="#333" stroke-width="0.6"/>
<circle cx="482.2" cy="289.2" r="1.5" fill="none" stroke="#333" stroke-width="0.6"/>
<circle cx="482.2" cy="419.7" r="1.5" fill="none" stroke="#333" stroke-width="0.6"/>
<circle cx="482.2" cy="424.9" r="1.5" fill="none" stroke="#333" stroke-width="0.6"/>
<line x1="498.2" y1="301.1" x2="498.2" y2="325.5" stroke="#333" stroke-width="0.7" />
<line x1="498.2" y1="361.8" x2="498.2" y2="402.3" stroke="#333" stroke-width="0.7" />
<line x1="494.7" y1="301.1" x2="501.7" y2="301.1" stroke="#333" stroke-width="0.7" />
<line x1="494.7" y1="402.3" x2="501.7" y2="402.3" stroke="#333" stroke-width="0.7" />
<rect x="491.4" y="325.5" width="13.6" height="36.3" fill="#ffbb78" stroke="#333" stroke-width="0.7" />
<line x1="491.4" y1="342.4" x2="505" y2="342.4" stroke="#ff7f0e" stroke-width="0.7" />
<circle cx="498.2" cy="263.5" r="1.5" fill="none" stroke="#333" stroke-width="0.6"/>
<circle cx="498.2" cy="420.7" r="1.5" fill="none" stroke="#333" stroke-width="0.6"/>
<line x1="534.8" y1="401.8" x2="534.8" y2="407.4" stroke="#333" stroke-width="0.7" />
<line x1="534.8" y1="412.5" x2="534.8" y2="416.5" stroke="#333" stroke-width="0.7" />
<line x1="531.3" y1="401.8" x2="538.3" y2="401.8" stroke="#333" stroke-width="0.7" />
<line x1="531.3" y1="416.5" x2="538.3" y2="416.5" stroke="#333" stroke-width="0.7" />
<rect x="528" y="407.4" width="13.6" height="5.1" fill="#aec7e8" stroke="#333" stroke-width="0.7" />
<line x1="528" y1="410.5" x2="541.6" y2="410.5" stroke="#ff7f0e" stroke-width="0.7" />
<line x1="550.8" y1="402.4" x2="550.8" y2="408.4" stroke="#333" stroke-width="0.7" />
<line x1="550.8" y1="412.1" x2="550.8" y2="416.9" stroke="#333" stroke-width="0.7" />
<line x1="547.3" y1="402.4" x2="554.3" y2="402.4" stroke="#333" stroke-width="0.7" />
<line x1="547.3" y1="416.9" x2="554.3" y2="416.9" stroke="#333" stroke-width="0.7" />
<rect x="544" y="408.4" width="13.6" height="3.7" fill="#ffbb78" stroke="#333" stroke-width="0.7" />
<line x1="544" y1="409.7" x2="557.6" y2="409.7" stroke="#ff7f0e" stroke-width="0.7" />
<circle cx="550.8" cy="420.7" r="1.5" fill="none" stroke="#333" stroke-width="0.6"/>
<line x1="587.3" y1="416.4" x2="587.3" y2="418.5" stroke="#333" stroke-width="0.7" />
<line x1="587.3" y1="421.5" x2="587.3" y2="424.5" stroke="#333" stroke-width="0.7" />
<line x1="583.8" y1="416.4" x2="590.8" y2="416.4" stroke="#333" stroke-width="0.7" />
<line x1="583.8" y1="424.5" x2="590.8" y2="424.5" stroke="#333" stroke-width="0.7" />
<rect x="580.5" y="418.5" width="13.6" height="3" fill="#aec7e8" stroke="#333" stroke-width="0.7" />
<line x1="580.5" y1="420.2" x2="594.1" y2="420.2" stroke="#ff7f0e" stroke-width="0.7" />
<line x1="603.3" y1="415.3" x2="603.3" y2="418" stroke="#333" stroke-width="0.7" />
<line x1="603.3" y1="421" x2="603.3" y2="424.6" stroke="#333" stroke-width="0.7" />
<line x1="599.8" y1="415.3" x2="606.8" y2="415.3" stroke="#333" stroke-width="0.7" />
<line x1="599.8" y1="424.6" x2="606.8" y2="424.6" stroke="#333" stroke-width="0.7" />
<rect x="596.5" y="418" width="13.6" height="3" fill="#ffbb78" stroke="#333" stroke-width="0.7" />
<line x1="596.5" y1="419.5" x2="610.1" y2="419.5" stroke="#ff7f0e" stroke-width="0.7" />
<circle cx="603.3" cy="412.5" r="1.5" fill="none" stroke="#333" stroke-width="0.6"/>
<circle cx="603.3" cy="425.7" r="1.5" fill="none" stroke="#333" stroke-width="0.6"/>
<line x1="639.9" y1="352.5" x2="639.9" y2="367.4" stroke="#333" stroke-width="0.7" />
<line x1="639.9" y1="377.8" x2="639.9" y2="388.5" stroke="#333" stroke-width="0.7" />
<line x1="636.4" y1="352.5" x2="643.4" y2="352.5" stroke="#333" stroke-width="0.7" />
<line x1="636.4" y1="388.5" x2="643.4" y2="388.5" stroke="#333" stroke-width="0.7" />
<rect x="633.1" y="367.4" width="13.6" height="10.4" fill="#aec7e8" stroke="#333" stroke-width="0.7" />
<line x1="633.1" y1="372.3" x2="646.7" y2="372.3" stroke="#ff7f0e" stroke-width="0.7" />
<circle cx="639.9" cy="401.1" r="1.5" fill="none" stroke="#333" stroke-width="0.6"/>
<line x1="655.9" y1="346.4" x2="655.9" y2="364.5" stroke="#333" stroke-width="0.7" />
<line x1="655.9" y1="379.4" x2="655.9" y2="390.5" stroke="#333" stroke-width="0.7" />
<line x1="652.4" y1="346.4" x2="659.4" y2="346.4" stroke="#333" stroke-width="0.7" />
<line x1="652.4" y1="390.5" x2="659.4" y2="390.5" stroke="#333" stroke-width="0.7" />
<rect x="649.1" y="364.5" width="13.6" height="14.9" fill="#ffbb78" stroke="#333" stroke-width="0.7" />
<line x1="649.1" y1="372.3" x2="662.7" y2="372.3" stroke="#ff7f0e" stroke-width="0.7" />
<rect x="403.4" y="255.4" width="278.8" height="178.9" fill="none" stroke="#222" stroke-width="1" />
<line x1="401" y1="425.4" x2="403.4" y2="425.4" stroke="#222" stroke-width="0.8" />
<text x="400.2" y="428.72" font-size="8.2" text-anchor="end" font-weight="bold" fill="#000" textLength="5.18" lengthAdjust="spacingAndGlyphs">0</text>
<line x1="401" y1="405.04" x2="403.4" y2="405.04" stroke="#222" stroke-width="0.8" />
<text x="400.2" y="408.36" font-size="8.2" text-anchor="end" font-weight="bold" fill="#000" textLength="5.18" lengthAdjust="spacingAndGlyphs">5</text>
<line x1="401" y1="384.69" x2="403.4" y2="384.69" stroke="#222" stroke-width="0.8" />
<text x="400.2" y="388.01" font-size="8.2" text-anchor="end" font-weight="bold" fill="#000" textLength="10.37" lengthAdjust="spacingAndGlyphs">10</text>
<line x1="401" y1="364.33" x2="403.4" y2="364.33" stroke="#222" stroke-width="0.8" />
<text x="400.2" y="367.65" font-size="8.2" text-anchor="end" font-weight="bold" fill="#000" textLength="10.37" lengthAdjust="spacingAndGlyphs">15</text>
<line x1="401" y1="343.98" x2="403.4" y2="343.98" stroke="#222" stroke-width="0.8" />
<text x="400.2" y="347.3" font-size="8.2" text-anchor="end" font-weight="bold" fill="#000" textLength="10.37" lengthAdjust="spacingAndGlyphs">20</text>
<line x1="401" y1="323.62" x2="403.4" y2="323.62" stroke="#222" stroke-width="0.8" />
<text x="400.2" y="326.94" font-size="8.2" text-anchor="end" font-weight="bold" fill="#000" textLength="10.37" lengthAdjust="spacingAndGlyphs">25</text>
<line x1="401" y1="303.27" x2="403.4" y2="303.27" stroke="#222" stroke-width="0.8" />
<text x="400.2" y="306.59" font-size="8.2" text-anchor="end" font-weight="bold" fill="#000" textLength="10.37" lengthAdjust="spacingAndGlyphs">30</text>
<line x1="401" y1="282.91" x2="403.4" y2="282.91" stroke="#222" stroke-width="0.8" />
<text x="400.2" y="286.23" font-size="8.2" text-anchor="end" font-weight="bold" fill="#000" textLength="10.37" lengthAdjust="spacingAndGlyphs">35</text>
<line x1="401" y1="262.56" x2="403.4" y2="262.56" stroke="#222" stroke-width="0.8" />
<text x="400.2" y="265.88" font-size="8.2" text-anchor="end" font-weight="bold" fill="#000" textLength="10.37" lengthAdjust="spacingAndGlyphs">40</text>
<text x="383.8" y="347.62" font-size="8.2" text-anchor="middle" font-weight="bold" fill="#000" textLength="23.7" lengthAdjust="spacingAndGlyphs" transform="rotate(-90 383.8 344.3)">Value</text>
<text x="542.7" y="252.69" font-size="9.26" text-anchor="middle" font-weight="bold" fill="#000" textLength="127.54" lengthAdjust="spacingAndGlyphs">D) Sleep &amp; Fatigue Metrics</text>
<rect x="407.2" y="262.2" width="16.7" height="3.7" fill="#aec7e8" stroke="none" stroke-width="0.8" />
<rect x="407.2" y="272.1" width="16.7" height="3.7" fill="#ffbb78" stroke="none" stroke-width="0.8" />
<text x="427.6" y="266.56" font-size="7.15" text-anchor="start" font-weight="bold" fill="#000" textLength="26.87" lengthAdjust="spacingAndGlyphs">Control</text>
<text x="427.6" y="276.26" font-size="7.15" text-anchor="start" font-weight="bold" fill="#000" textLength="45.47" lengthAdjust="spacingAndGlyphs">Intervention</text>
<line x1="437.7" y1="434.3" x2="437.7" y2="436.7" stroke="#222" stroke-width="0.8" />
<text x="0" y="0" font-size="8.2" text-anchor="end" font-weight="bold" textLength="77.38" lengthAdjust="spacingAndGlyphs" transform="translate(437.09 443.22) rotate(-20)">Sleep Duration (h)</text>
<line x1="490.2" y1="434.3" x2="490.2" y2="436.7" stroke="#222" stroke-width="0.8" />
<text x="0" y="0" font-size="8.2" text-anchor="end" font-weight="bold" textLength="83.94" lengthAdjust="spacingAndGlyphs" transform="translate(489.59 443.22) rotate(-20)">Sleep Latency (min)</text>
<line x1="542.8" y1="434.3" x2="542.8" y2="436.7" stroke="#222" stroke-width="0.8" />
<text x="0" y="0" font-size="8.2" text-anchor="end" font-weight="bold" textLength="79" lengthAdjust="spacingAndGlyphs" transform="translate(542.19 443.22) rotate(-20)">Sleep Quality (1-5)</text>
<line x1="595.3" y1="434.3" x2="595.3" y2="436.7" stroke="#222" stroke-width="0.8" />
<text x="0" y="0" font-size="8.2" text-anchor="end" font-weight="bold" textLength="95.12" lengthAdjust="spacingAndGlyphs" transform="translate(594.69 443.22) rotate(-20)">Nighttime Awakenings</text>
<line x1="647.9" y1="434.3" x2="647.9" y2="436.7" stroke="#222" stroke-width="0.8" />
<text x="0" y="0" font-size="8.2" text-anchor="end" font-weight="bold" textLength="38.68" lengthAdjust="spacingAndGlyphs" transform="translate(647.29 443.22) rotate(-20)">Borg RPE</text>
</svg>
</body></html>
